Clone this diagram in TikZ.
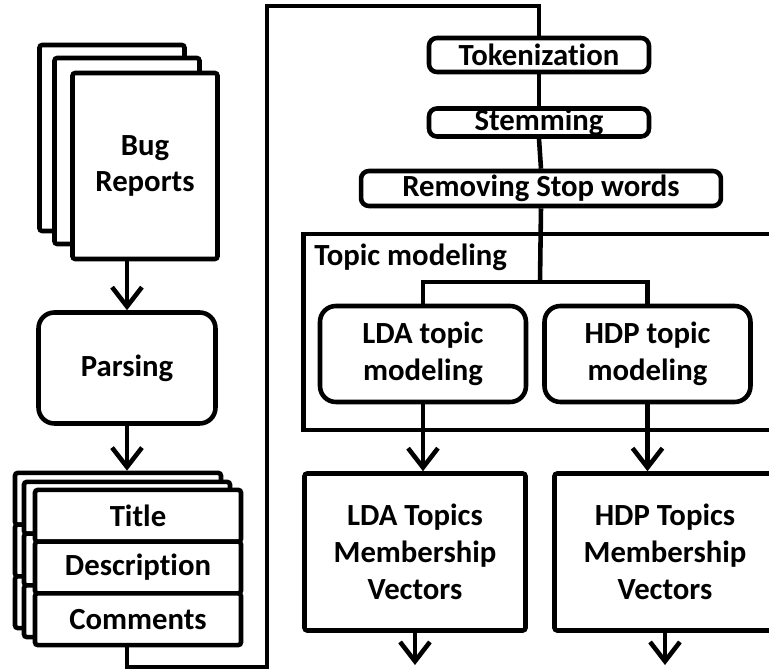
\documentclass[tikz,border=0pt]{standalone}
\usepackage{fontspec}
\setmainfont{Carlito}[Ligatures=NoCommon]
\usetikzlibrary{arrows.meta}
\tikzset{>={Straight Barb[length=11pt,width=17pt]}}
\tikzset{
  sheet/.style={draw=black, line width=2.6pt, fill=white, rounded corners=1.5pt, inner sep=0pt, align=center},
  field/.style={sheet, minimum width=4.12cm, minimum height=1.034cm},
  stepbox/.style={draw=black, line width=2.6pt, fill=white, rounded corners=4.5pt, inner sep=0pt},
  roundbox/.style={draw=black, line width=2.6pt, fill=white, rounded corners=9pt, inner sep=0pt, align=center},
}

\begin{document}
\begin{tikzpicture}[x=0.02cm, y=-0.02cm, line width=2.6pt, font=\fontsize{17.5}{21}\selectfont\bfseries]
    \useasboundingbox (0,0) rectangle (769,671);
    \clip (0,0) rectangle (769,671);

    % bug reports
    \node[sheet, minimum width=2.9cm, minimum height=3.72cm] (bugC) at (112,138) {};
    \node[sheet, minimum width=2.9cm, minimum height=3.72cm] (bugB) at (127,151) {};
    \node[sheet, minimum width=2.9cm, minimum height=3.72cm] (bug) at (145,166) {Bug\\Reports};
    \node[roundbox, minimum width=3.54cm, minimum height=2.22cm] (parse) at (127,368) {Parsing};

    % parsed fields
    \node[field] (titleC) at (118,498.8) {};
    \node[field] (descC) at (118,550.5) {};
    \node[field] (commC) at (118,602.2) {};
    \node[field] (titleB) at (127,507.8) {};
    \node[field] (descB) at (127,559.5) {};
    \node[field] (commB) at (127,611.2) {};
    \node[field] (title) at (138,515.8) {Title};
    \node[field] (desc) at (138,567.5) {Description};
    \node[field] (comm) at (138,619.2) {Comments};

    \draw[->] (bug.south -| parse.north) -- (parse.north);
    \draw[->] (parse.south) -- (parse.south |- titleC.north);

    % preprocessing
    \node[stepbox, minimum width=4.4cm, minimum height=0.68cm] (tok) at (539,55) {Tokenization};
    \node[stepbox, minimum width=4.4cm, minimum height=0.56cm] (stem) at (539,122.5) {Stemming};
    \node[stepbox, minimum width=7.2cm, minimum height=0.7cm] (rsw) at (541,188.5) {Removing Stop words};

    \coordinate (bendA) at (267,667);
    \coordinate (bendB) at (267,6);
    \draw (comm.south -| parse.south) |- (bendA) -- (bendB) -| (tok.north);
    \draw (tok.south) -- (stem.north);
    \draw (stem.south) -- (rsw.north);

    % topic modeling
    \node[draw=black, line width=2.6pt, minimum width=10.34cm, minimum height=3.92cm] (topic) at (562,332) {};
    \node[anchor=west, inner sep=0pt] (tmlabel) at (312,257) {Topic modeling};
    \node[roundbox, minimum width=4.12cm, minimum height=1.92cm] (lda) at (423,354) {LDA topic\\modeling};
    \node[roundbox, minimum width=4.12cm, minimum height=1.92cm] (hdp) at (647.5,354) {HDP topic\\modeling};

    \coordinate (split) at (540,282);
    \draw (rsw.south) -- (split);
    \draw (split) -| (lda.north);
    \draw (split) -| (hdp.north);

    % membership vectors
    \node[sheet, minimum width=4.42cm, minimum height=3.14cm] (ldavec) at (415,552) {LDA Topics\\Membership\\Vectors};
    \node[sheet, minimum width=4.42cm, minimum height=3.14cm] (hdpvec) at (665,552) {HDP Topics\\Membership\\Vectors};
    \draw[->] (lda.south) -- (lda.south |- ldavec.north);
    \draw[->] (hdp.south) -- (hdp.south |- hdpvec.north);

    \coordinate (ldaout) at (415,665);
    \coordinate (hdpout) at (665,665);
    \draw[->] (ldavec.south) -- (ldaout);
    \draw[->] (hdpvec.south) -- (hdpout);
\end{tikzpicture}
\end{document}
